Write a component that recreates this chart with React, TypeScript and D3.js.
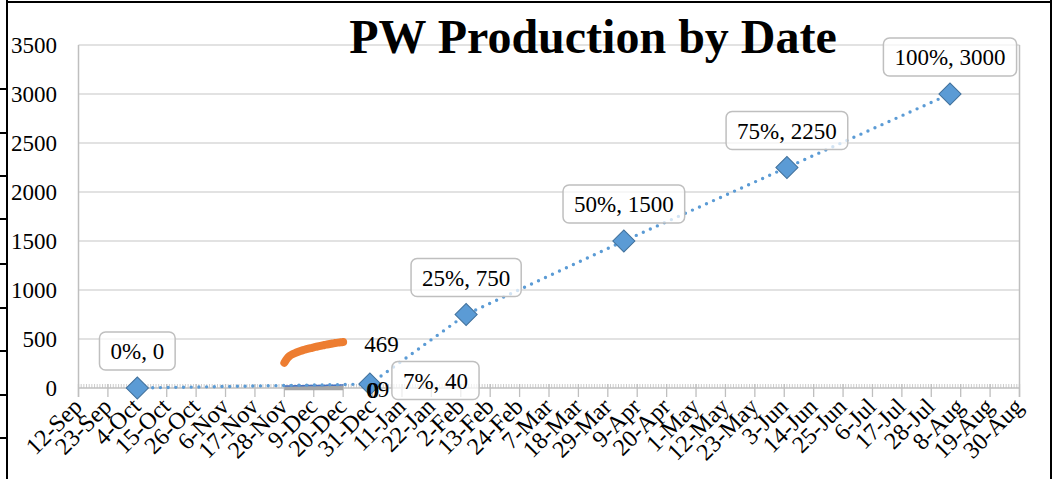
import React from 'react';
import * as d3 from 'd3';

const W = 1054;
const H = 479;
const TITLE = 'PW Production by Date';

const yTickValues = [0, 500, 1000, 1500, 2000, 2500, 3000, 3500];
const xDomain = ['2018-09-12', '2019-08-30'];
const xTickDates = [
  '2018-09-12', '2018-09-23', '2018-10-04', '2018-10-15', '2018-10-26', '2018-11-06',
  '2018-11-17', '2018-11-28', '2018-12-09', '2018-12-20', '2018-12-31', '2019-01-11',
  '2019-01-22', '2019-02-02', '2019-02-13', '2019-02-24', '2019-03-07', '2019-03-18',
  '2019-03-29', '2019-04-09', '2019-04-20', '2019-05-01', '2019-05-12', '2019-05-23',
  '2019-06-03', '2019-06-14', '2019-06-25', '2019-07-06', '2019-07-17', '2019-07-28',
  '2019-08-08', '2019-08-19', '2019-08-30',
];

// Target (planned) series
const targetDates = ['2018-10-04', '2018-12-30', '2019-02-04', '2019-04-04', '2019-06-04', '2019-08-04'];
const targetValues = [0, 40, 750, 1500, 2250, 3000];
const targetPct = ['0%', '7%', '25%', '50%', '75%', '100%'];

// Actual production series
const actualDates = [
  '2018-11-28', '2018-11-29', '2018-11-30', '2018-12-01', '2018-12-02', '2018-12-03',
  '2018-12-04', '2018-12-05', '2018-12-06', '2018-12-07', '2018-12-08', '2018-12-09',
  '2018-12-10', '2018-12-11', '2018-12-12', '2018-12-13', '2018-12-14', '2018-12-15',
  '2018-12-16', '2018-12-17', '2018-12-18', '2018-12-19', '2018-12-20',
];
const actualValues = [258, 300, 328, 344, 356, 367, 377, 386, 394, 401, 408, 415,
  421, 427, 433, 439, 444, 449, 454, 459, 463, 466, 469];
const zeroSeriesValues = [0, 0, 0, 0, 0, 0, 0, 0, 0, 0, 0, 0, 0, 0, 0, 0, 0, 0, 0, 0, 0, 0, 0];
const smallSeriesValues = [0, 0, 1, 1, 2, 2, 3, 3, 4, 4, 4, 5, 5, 5, 6, 6, 7, 7, 8, 8, 8, 9, 9];

const parse = d3.utcParse('%Y-%m-%d');
const fmt = d3.utcFormat('%-d-%b');
const SERIF = '"Liberation Serif", "Times New Roman", serif';

function measure(text: string, size: number, weight = 'normal') {
  if (typeof document === 'undefined') return text.length * size * 0.5;
  const c = document.createElement('canvas').getContext('2d');
  if (!c) return text.length * size * 0.5;
  c.font = `${weight} ${size}px "Liberation Serif"`;
  return c.measureText(text).width;
}

export default function App() {
  const left = 78.5, right = 1019.5, top = 45, bottom = 388;
  const x = d3.scaleUtc().domain(xDomain.map((d) => parse(d) as Date)).range([left, right]);
  const y = d3.scaleLinear().domain([0, 3500]).range([bottom, top]);

  const minorDays = d3.utcDay.range(parse(xDomain[0]) as Date, d3.utcDay.offset(parse(xDomain[1]) as Date, 1));

  const target = targetDates.map((d, i) => ({ date: parse(d) as Date, v: targetValues[i], pct: targetPct[i] }));
  const actual = actualDates.map((d, i) => ({ date: parse(d) as Date, v: actualValues[i] }));
  const zeroS = actualDates.map((d, i) => ({ date: parse(d) as Date, v: zeroSeriesValues[i] }));
  const smallS = actualDates.map((d, i) => ({ date: parse(d) as Date, v: smallSeriesValues[i] }));

  const line = d3.line<{ date: Date; v: number }>().x((d) => x(d.date)).y((d) => y(d.v));
  const actualLine = d3.line<{ date: Date; v: number }>().x((d) => x(d.date)).y((d) => y(d.v)).curve(d3.curveMonotoneX);
  const diamond = d3.symbol().type(d3.symbolSquare).size(245)();

  const lastA = actual[actual.length - 1];
  const lastZ = zeroS[zeroS.length - 1];
  const lastS = smallS[smallS.length - 1];

  return (
    <svg width={W} height={H} style={{ position: 'absolute', left: 0, top: 0, background: '#fff' }} fontFamily={SERIF}>
      <rect x={0} y={0} width={W} height={H} fill="#fff" />
      {/* outer frame */}
      <line x1={7} y1={0} x2={7} y2={H} stroke="#000" strokeWidth={2} />
      <line x1={7} y1={2} x2={1051} y2={2} stroke="#000" strokeWidth={2} />
      <line x1={1051} y1={0} x2={1051} y2={H} stroke="#000" strokeWidth={2} />
      {[89, 133, 176, 219, 264, 308, 351, 395, 438].map((yy) => (
        <line key={yy} x1={0} y1={yy} x2={7} y2={yy} stroke="#000" strokeWidth={2} />
      ))}

      {/* gridlines */}
      {yTickValues.filter((v) => v > 0).map((v) => (
        <line key={v} x1={left} x2={right} y1={y(v)} y2={y(v)} stroke="#d9d9d9" strokeWidth={1.3} />
      ))}
      {/* y labels */}
      {yTickValues.map((v) => (
        <text key={v} x={57} y={y(v)} dy="0.34em" textAnchor="end" fontSize={23} fill="#000">{v}</text>
      ))}
      {/* plot borders */}
      <line x1={left} x2={left} y1={top} y2={bottom + 9} stroke="#bfbfbf" strokeWidth={1.5} />
      <line x1={right} x2={right} y1={top} y2={bottom + 9} stroke="#bfbfbf" strokeWidth={1.5} />
      {/* x axis */}
      {minorDays.map((d, i) => (
        <line key={i} x1={x(d)} x2={x(d)} y1={bottom - 4} y2={bottom} stroke="#bfbfbf" strokeWidth={0.8} />
      ))}
      <line x1={left} x2={right} y1={bottom} y2={bottom} stroke="#bfbfbf" strokeWidth={1.5} />
      {xTickDates.map((s) => {
        const d = parse(s) as Date;
        return <line key={s} x1={x(d)} x2={x(d)} y1={bottom - 4} y2={bottom + 9} stroke="#bfbfbf" strokeWidth={1.3} />;
      })}
      {xTickDates.map((s) => {
        const d = parse(s) as Date;
        const ax = x(d) + 5, ay = 408;
        return (
          <text key={s} x={ax} y={ay} transform={`rotate(-45 ${ax} ${ay})`} textAnchor="end" fontSize={24} fill="#000">{fmt(d)}</text>
        );
      })}

      {/* actual series */}
      <path d={actualLine(actual) || ''} fill="none" stroke="#ed7d31" strokeWidth={8} strokeLinecap="round" strokeLinejoin="round" />
      <path d={line(zeroS) || ''} fill="none" stroke="#a5a5a5" strokeWidth={4.5} />
      <path d={line(smallS) || ''} transform="translate(0,-2)" fill="none" stroke="#4472c4" strokeWidth={1.5} />

      {/* target dotted line */}
      <path d={line(target) || ''} fill="none" stroke="#5b9bd5" strokeWidth={3.4} strokeDasharray="0 7.7" strokeLinecap="round" />
      {target.map((p, i) => (
        <path key={i} d={diamond || ''} transform={`translate(${x(p.date)},${y(p.v)}) rotate(45)`} fill="#5b9bd5" stroke="#41719c" strokeWidth={1} />
      ))}

      {/* end labels for actual series */}
      <text x={x(lastA.date) + 21} y={y(lastA.v)} dy="0.42em" fontSize={23} fill="#000">{lastA.v}</text>
      <text x={x(lastZ.date) + 23} y={y(lastZ.v)} dy="0.45em" fontSize={23} fill="#000">{lastZ.v}</text>
      <text x={x(lastZ.date) + 24.5} y={y(lastZ.v)} dy="0.45em" fontSize={23} fill="#000">{lastZ.v}</text>
      <text x={x(lastS.date) + 34.5} y={y(lastS.v)} dy="0.45em" fontSize={23} fill="#000">{lastS.v}</text>

      {/* target data labels */}
      {target.map((p, i) => {
        const label = `${p.pct}, ${p.v}`;
        const tw = measure(label, 23);
        const bw = tw + 22, bh = 38;
        const px = x(p.date), py = y(p.v);
        let bx, by;
        if (i === 1) {
          bx = px + 22; by = py - 3.5 - bh / 2;
        } else {
          bx = px - bw / 2; by = py - 18 - bh;
        }
        return (
          <g key={i}>
            <rect x={bx} y={by} width={bw} height={bh} rx={6} fill="#fff" fillOpacity={0.72} stroke="#bfbfbf" strokeWidth={1.5} />
            <text x={bx + bw / 2} y={by + bh / 2} dy="0.35em" textAnchor="middle" fontSize={23} fill="#000">{label}</text>
          </g>
        );
      })}

      {/* title */}
      <text x={593} y={53} textAnchor="middle" fontSize={48} fontWeight="bold" fill="#000">{TITLE}</text>
    </svg>
  );
}
